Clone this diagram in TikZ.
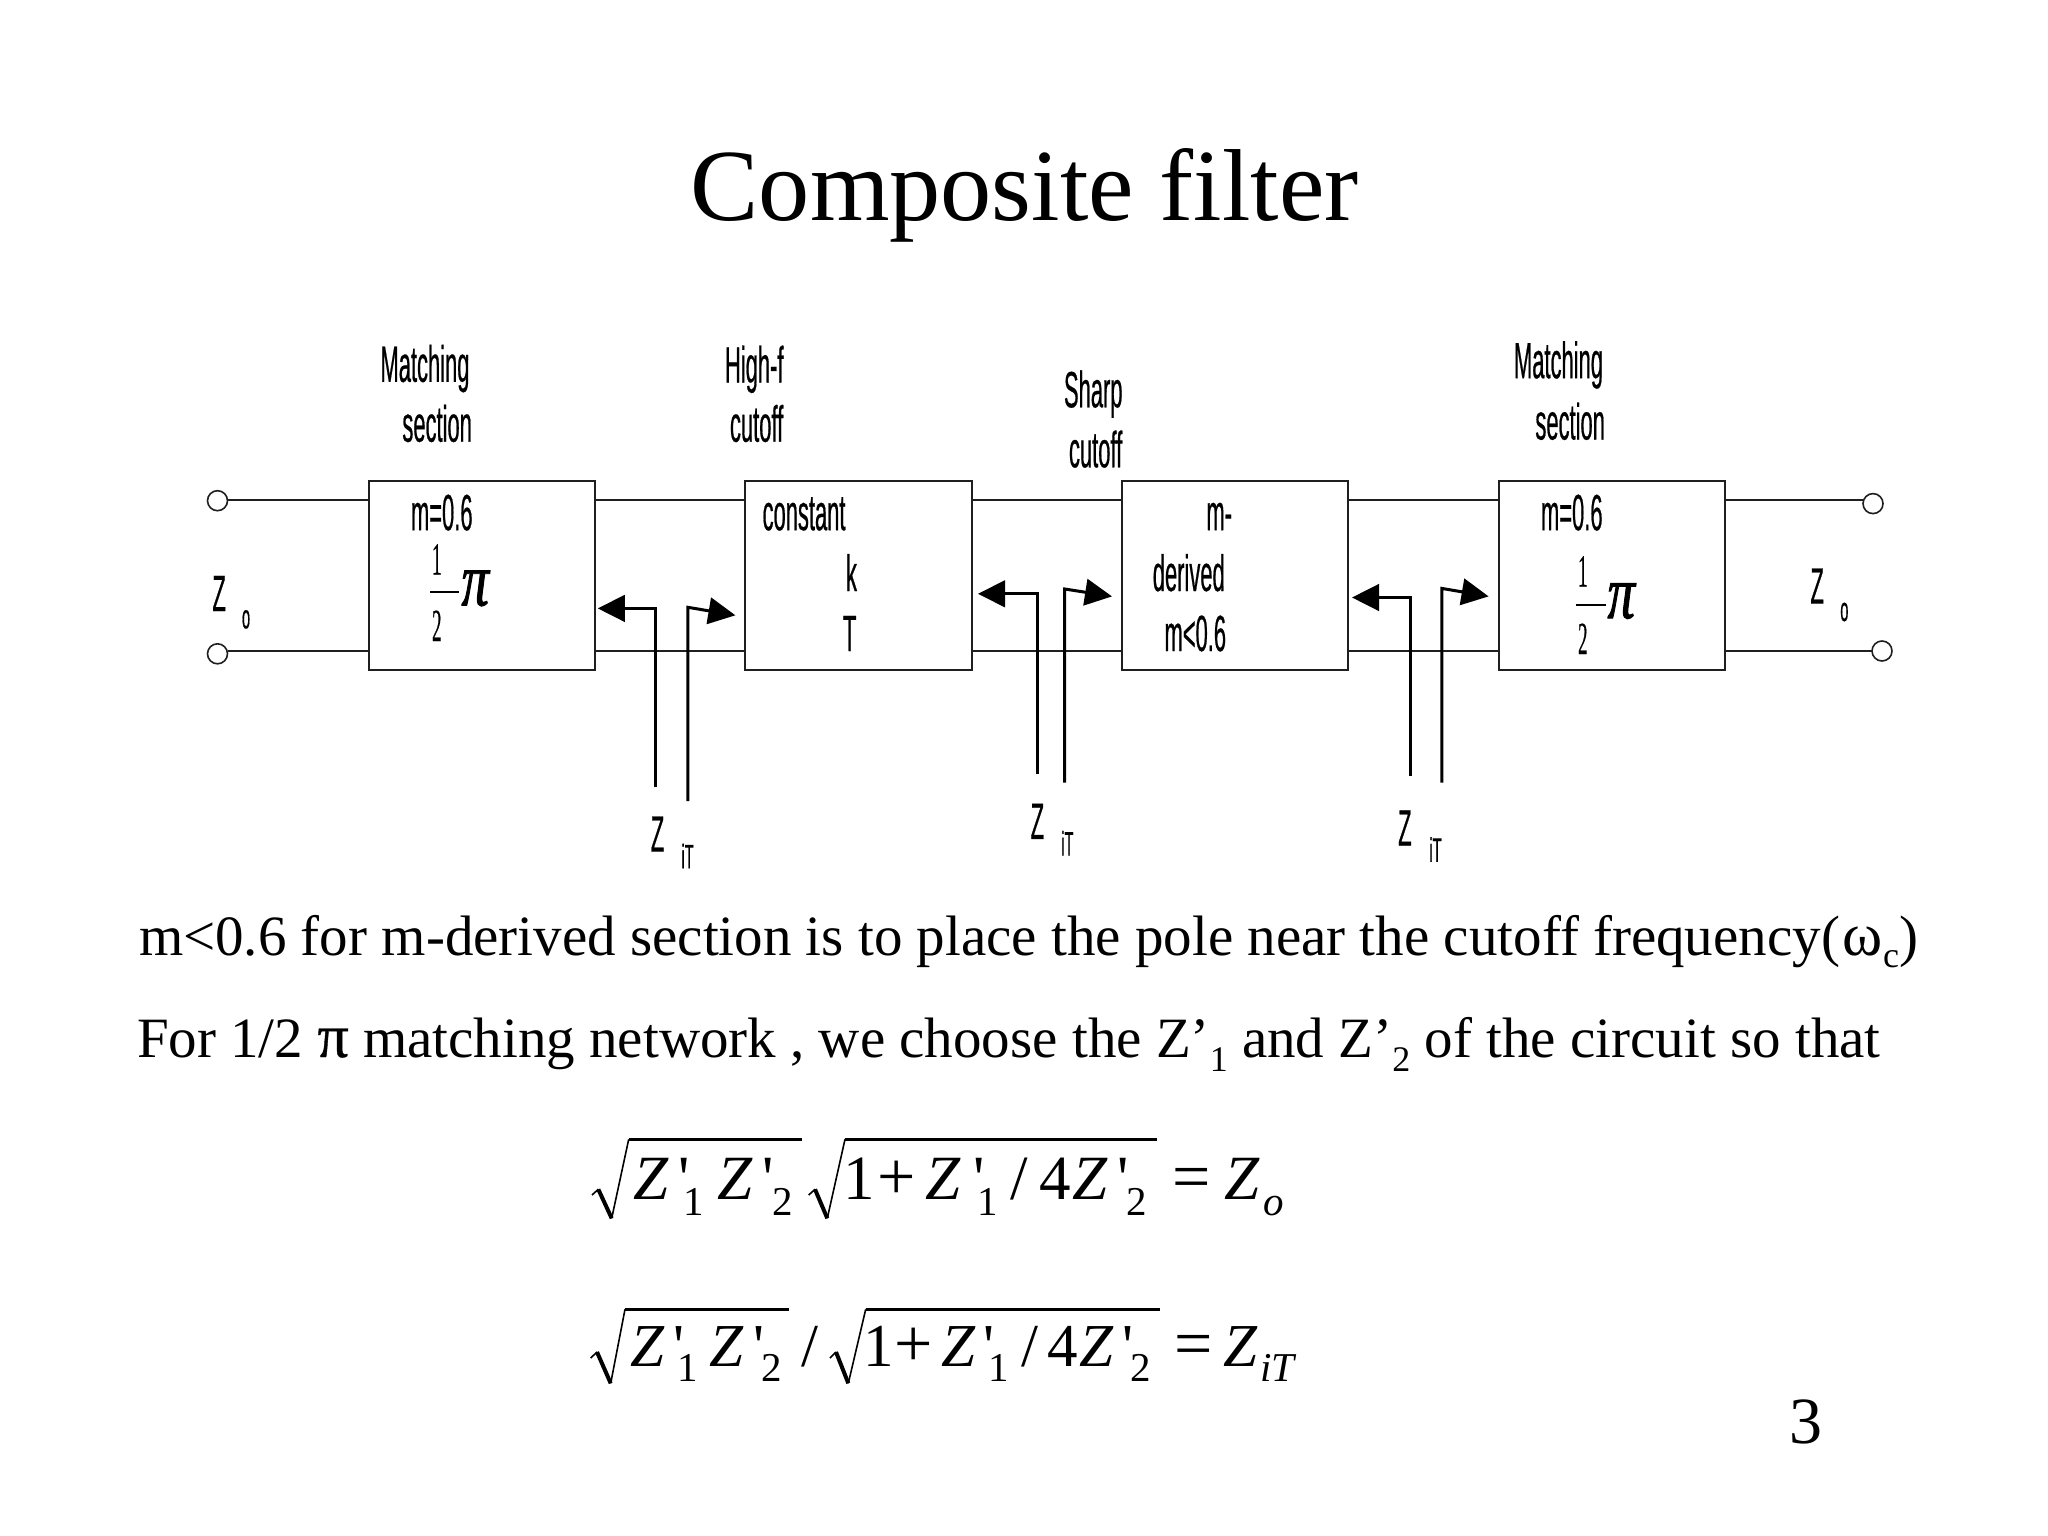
\documentclass[tikz,border=0pt]{standalone}
\usepackage{fontspec}
\usetikzlibrary{arrows.meta}
\setmainfont{Liberation Serif}
\newfontfamily\plainserif{Liberation Serif}
\newfontfamily\boldpi[FakeBold=0.6]{Liberation Serif}
\newfontfamily\narrowsans[FakeStretch=0.43,FakeBold=0.4]{Liberation Sans}
\newfontfamily\narrowserif[FakeStretch=0.42,FakeBold=0.3]{Liberation Serif}
\newfontfamily\pifont[FakeStretch=0.72,FakeBold=1.2]{Liberation Serif}
\newcommand{\fsz}[1]{\fontsize{#1}{#1}\selectfont}
\newcommand{\lblsans}[3]{\node[txt] (#1) at #2 {\narrowsans\fsz{51}#3};}
\newcommand{\lblsub}[3]{\node[txt] (#1) at #2 {\narrowsans\fsz{34}#3};}
\newcommand{\halfpi}[6]{%
  \node[txt] (#1a) at (#2,#3) {\narrowserif\fsz{46}1};
  \node[txt] (#1b) at (#2,#4) {\narrowserif\fsz{46}2};
  \node[txt] (#1c) at (#5,#6) {\pifont\itshape\fsz{76}π};
}
\newcommand{\eqbig}[3]{\node[txt] (#1) at #2 {\fsz{\eqsize}#3};}
\newcommand{\eqsym}[3]{\node[txt] (#1) at #2 {\fsz{68}#3};}
\newcommand{\eqsub}[3]{\node[txt] (#1) at #2 {\fsz{41}#3};}
\newcommand{\apos}[2]{\node[txt] (#1) at #2 {\plainserif\fsz{\eqsize}'};}
\newcommand{\drawroot}[8]{%
  \draw[thin line] (#1,#2) -- (#3,#4);
  \draw[line width=4pt] (#3,#4) -- (#5,#6);
  \draw[line width=1.6pt] (#5,#6) -- (#7,#8);
}
\tikzset{
  txt/.style={anchor=base west,inner sep=0pt,outer sep=0pt},
  thin line/.style={line width=1.6pt},
  wire/.style={line width=2pt,draw=black!88},
  blockbox/.style={draw=black!88,line width=2pt,minimum width=226.5pt,minimum height=189pt,inner sep=0pt,outer sep=0pt},
  term/.style={circle,draw=black!88,line width=1.6pt,minimum size=20pt,inner sep=0pt,outer sep=0pt},
  probe/.style={line width=3pt,-{Triangle[length=27pt,width=26.5pt]}},
  bar/.style={line width=2.8pt}
}
\begin{document}
\begin{tikzpicture}[x=1pt,y=-1pt]
\useasboundingbox[fill=white] (0,0) rectangle (2048,1536);
% title
\node[txt] (title) at (690.7,220.5) {\fsz{102.3}Composite filter};
% blocks
\node[blockbox] (b1) at (481.75,575.5) {};
\node[blockbox] (b2) at (858.25,575.5) {};
\node[blockbox] (b3) at (1235,575.5) {};
\node[blockbox] (b4) at (1612.1,575.5) {};
% terminals
\node[term] (tl1) at (217.5,500.7) {};
\node[term] (tl2) at (217.5,653.8) {};
\node[term] (tr1) at (1873,503.6) {};
\node[term] (tr2) at (1882,651) {};
\coordinate (wt) at (0,499.6);
\coordinate (wb) at (0,651);
\foreach \p/\q in {tl1.east/b1.west,b1.east/b2.west,b2.east/b3.west,b3.east/b4.west,b4.east/tr1.west}
  \draw[wire] (\p |- wt) -- (\q |- wt);
\foreach \p/\q in {tl2.east/b1.west,b1.east/b2.west,b2.east/b3.west,b3.east/b4.west,b4.east/tr2.west}
  \draw[wire] (\p |- wb) -- (\q |- wb);
% probes
\coordinate (p1a) at (655.6,787.3); \coordinate (p1b) at (655.6,608.4); \coordinate (p1c) at (597.8,608.4);
\coordinate (p2a) at (687.8,801); \coordinate (p2b) at (687.8,607.3); \coordinate (p2c) at (735.4,615.3);
\coordinate (p3a) at (1037.2,773.5); \coordinate (p3b) at (1037.2,593.8); \coordinate (p3c) at (978,593.8);
\coordinate (p4a) at (1064.7,782.5); \coordinate (p4b) at (1064.7,589); \coordinate (p4c) at (1112,596.4);
\coordinate (p5a) at (1410,775.6); \coordinate (p5b) at (1410,597.5); \coordinate (p5c) at (1352,597.5);
\coordinate (p6a) at (1441.8,782.5); \coordinate (p6b) at (1441.8,588.4); \coordinate (p6c) at (1488.6,596.4);
\foreach \n in {1,...,6}
  \draw[probe] (p\n a) -- (p\n b) -- (p\n c);
% heading labels
\lblsans{m1}{(380.5,381.8)}{Matching}
\lblsans{m2}{(402.4,441.7)}{section}
\lblsans{h1}{(725,382.5)}{High-f}
\lblsans{h2}{(730,441.7)}{cutoff}
\lblsans{s1}{(1064,407.3)}{Sharp}
\lblsans{s2}{(1069,467.3)}{cutoff}
\lblsans{n1}{(1514,378.2)}{Matching}
\lblsans{n2}{(1535.4,439.5)}{section}
% block contents
\lblsans{c1}{(411,530.2)}{m=0.6}
\lblsans{c2}{(762.6,530.2)}{constant}
\lblsans{c3}{(846,591)}{k}
\lblsans{c4}{(843,651)}{T}
\lblsans{c5}{(1206.4,530.2)}{m-}
\lblsans{c6}{(1152.8,591)}{derived}
\lblsans{c7}{(1164.5,651)}{m<0.6}
\lblsans{c8}{(1541,530.2)}{m=0.6}
\halfpi{ha}{432}{574.5}{641}{461.5}{605.5}
\coordinate (ha1) at (430,592); \coordinate (ha2) at (458.5,592);
\draw[line width=2.4pt] (ha1) -- (ha2);
\halfpi{hb}{1578}{586.5}{654}{1607.5}{618.2}
\coordinate (hb1) at (1575.5,604.7); \coordinate (hb2) at (1605.5,604.7);
\draw[line width=2.4pt] (hb1) -- (hb2);
% Z labels
\lblsans{z1}{(212.5,611)}{Z}
\lblsub{z1s}{(242,628.4)}{o}
\lblsans{z2}{(1810.5,603.6)}{Z}
\lblsub{z2s}{(1840.3,621)}{o}
\lblsans{z3}{(650.8,851.6)}{Z}
\lblsub{z3s}{(681.5,868.4)}{iT}
\lblsans{z4}{(1030.7,838.9)}{Z}
\lblsub{z4s}{(1061.3,855.6)}{iT}
\lblsans{z5}{(1398.2,845.5)}{Z}
\lblsub{z5s}{(1429.4,861.8)}{iT}
% text lines
\node[txt] (line1) at (139,955.5) {\fsz{57}m<0.6 for m-derived section is to place the pole near the cutoff frequency(\hspace{3pt}{\fsz{61}ω}\raisebox{-12pt}{\fsz{36}c})};
\node[txt] (line2) at (137,1057) {\fsz{57}For 1/2 {\boldpi\fsz{62}π} matching network , we choose the Z’\raisebox{-14pt}{\fsz{36}1} and Z’\raisebox{-14pt}{\fsz{36}2} of the circuit so that};
% equation 1
\def\eqsize{63}
\drawroot{592}{1195}{598.3}{1189.3}{611.7}{1218.3}{628.7}{1139.3}
\coordinate (r1a) at (628.7,1139.3); \coordinate (r1b) at (802.3,1139.3);
\draw[bar] (r1a) -- (r1b);
\drawroot{808.7}{1195}{815}{1189.3}{827.3}{1218.3}{845}{1139.3}
\coordinate (r2a) at (845,1139.3); \coordinate (r2b) at (1157.3,1139.3);
\draw[bar] (r2a) -- (r2b);
\eqbig{a1}{(633,1199.3)}{\itshape Z}
\apos{a2}{(678.5,1199.3)}
\eqsub{a3}{(683.5,1215.7)}{1}
\eqbig{a4}{(717.3,1199.3)}{\itshape Z}
\apos{a5}{(762,1199.3)}
\eqsub{a6}{(772,1215.7)}{2}
\eqbig{a7}{(843,1199.3)}{1}
\eqsym{a8}{(877,1199.3)}{+}
\eqbig{a9}{(925.7,1199.3)}{\itshape Z}
\apos{a10}{(973.7,1199.3)}
\eqsub{a11}{(977,1215.7)}{1}
\eqbig{a12}{(1010,1199.3)}{/}
\eqbig{a13}{(1039,1199.3)}{4}
\eqbig{a14}{(1072.3,1199.3)}{\itshape Z}
\apos{a15}{(1117,1199.3)}
\eqsub{a16}{(1126.7,1215.7)}{2}
\eqsym{a17}{(1172,1199.3)}{=}
\eqbig{a18}{(1224.3,1199.3)}{\itshape Z}
\eqsub{a19}{(1263,1215.7)}{\itshape o}
% equation 2
\def\eqsize{61}
\drawroot{590.7}{1358}{597}{1352}{610.7}{1383.3}{625}{1309.3}
\coordinate (r3a) at (625,1309.3); \coordinate (r3b) at (789.3,1309.3);
\draw[bar] (r3a) -- (r3b);
\drawroot{830}{1358}{836}{1352}{848.3}{1383.3}{865.7}{1309.3}
\coordinate (r4a) at (865.7,1309.3); \coordinate (r4b) at (1160,1309.3);
\draw[bar] (r4a) -- (r4b);
\eqbig{e1}{(630,1366.7)}{\itshape Z}
\apos{e2}{(673.7,1366.7)}
\eqsub{e3}{(677.5,1381.7)}{1}
\eqbig{e4}{(709.3,1366.7)}{\itshape Z}
\apos{e5}{(753.7,1366.7)}
\eqsub{e6}{(761.3,1381.7)}{2}
\eqbig{e7}{(801.7,1366.7)}{/}
\eqbig{e8}{(863.3,1366.7)}{1}
\eqsym{e9}{(894.7,1366.7)}{+}
\eqbig{e10}{(941,1366.7)}{\itshape Z}
\apos{e11}{(983.7,1366.7)}
\eqsub{e12}{(988.5,1381.7)}{1}
\eqbig{e13}{(1021,1366.7)}{/}
\eqbig{e14}{(1047.3,1366.7)}{4}
\eqbig{e15}{(1079.3,1366.7)}{\itshape Z}
\apos{e16}{(1122,1366.7)}
\eqsub{e17}{(1130.7,1381.7)}{2}
\eqsym{e18}{(1174,1366.7)}{=}
\eqbig{e19}{(1223.3,1366.7)}{\itshape Z}
\eqsub{e20}{(1260,1381.7)}{\itshape iT}
% page number
\node[txt] (page) at (1789,1443) {\fsz{66}3};
\end{tikzpicture}
\end{document}
